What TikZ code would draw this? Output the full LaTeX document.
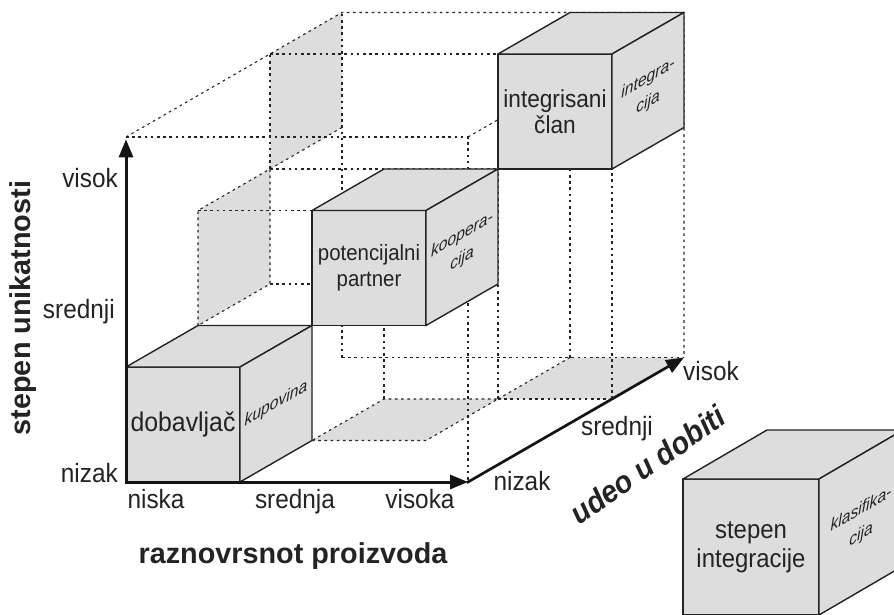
\documentclass[tikz,border=0pt]{standalone}
\usepackage{graphicx}
\usepackage{fontspec}
\setmainfont{Liberation Sans}
\newfontfamily\narrowsans{Liberation Sans}[FakeStretch=0.92]
\usetikzlibrary{arrows.meta}

\definecolor{facegray}{RGB}{221,221,221}
\definecolor{ink}{RGB}{35,35,35}

\tikzset{
  cubeface/.style={fill=facegray, draw=ink, line width=1.4pt, line join=round},
  guide/.style={draw=ink, line width=1.1pt, dash pattern=on 2.6pt off 3.6pt},
  wallshade/.style={fill=facegray},
  axisline/.style={draw=black!92, line width=3pt, line cap=rect,
    -{Triangle[length=18pt,width=14pt]}},
  ticklabel/.style={font=\narrowsans\fontsize{26.5}{30}\selectfont, text=ink, inner sep=0pt},
  axistitle/.style={font=\fontsize{28.8}{32}\selectfont\bfseries, text=ink, inner sep=0pt},
  frontlabel/.style={font=\narrowsans\fontsize{24.6}{26.5}\selectfont, text=ink, align=center, inner sep=0pt},
  sidelabel/.style={font=\narrowsans\fontsize{17}{24}\selectfont\itshape, text=ink, align=center,
    inner sep=0pt, yslant=0.576, transform shape},
}

% unit cube whose front-bottom-left corner is (#1,#2,#3): front, top and right faces
\newcommand{\drawcube}[3]{%
  \filldraw[cubeface] (#1,#2,#3) -- ++(1,0,0) -- ++(0,1,0) -- ++(-1,0,0) -- cycle;
  \filldraw[cubeface] (#1,{#2+1},#3) -- ++(1,0,0) -- ++(0,0,1) -- ++(-1,0,0) -- cycle;
  \filldraw[cubeface] ({#1+1},#2,#3) -- ++(0,0,1) -- ++(0,1,0) -- ++(0,0,-1) -- cycle;
}

\begin{document}
\begin{tikzpicture}[x=1pt,y=1pt]
\useasboundingbox (0,0) rectangle (894,614);

\begin{scope}[shift={(126pt,132pt)}, x={(114pt,0pt)}, y={(0pt,115pt)}, z={(72pt,41.5pt)}]
  % corners of the 3x3x3 frame
  \coordinate (O)   at (0,0,0);
  \coordinate (X3)  at (3,0,0);
  \coordinate (Y3)  at (0,2.98,0);
  \coordinate (Z3)  at (3,0,3);

  % projections of the cubes on the left wall and on the floor
  \fill[wallshade] (0,1,1) -- (0,2,1) -- (0,2,2) -- (0,1,2) -- cycle;
  \fill[wallshade] (0,2,2) -- (0,3,2) -- (0,3,3) -- (0,2,3) -- cycle;
  \fill[wallshade] (1,0,1) -- (2,0,1) -- (2,0,2) -- (1,0,2) -- cycle;
  \fill[wallshade] (2,0,2) -- (3,0,2) -- (3,0,3) -- (2,0,3) -- cycle;

  % frame edges
  \draw[guide] (0,3,0) -- (3,3,0) -- (3,0,0);
  \draw[guide] (0,3,0) -- (0,3,3) -- (3,3,3) -- (3,0,3);
  \draw[guide] (3,3,0) -- (3,3,3);
  \draw[guide] (0,0,3) -- (0,3,3);
  \draw[guide] (0,0,3) -- (3,0,3);

  % left-wall squares and their links to the cubes
  \draw[guide] (0,1,1) -- (0,2,1) -- (0,2,2) -- (0,1,2) -- cycle;
  \draw[guide] (0,2,2) -- (0,3,2);
  \draw[guide] (0,2,2) -- (0,2,3);
  \draw[guide] (0,3,2) -- (2,3,2);
  \draw[guide] (0,2,2) -- (2,2,2);
  \draw[guide] (0,2,1) -- (1,2,1);
  \draw[guide] (0,1,2) -- (1,1,2);

  % floor squares and their links to the cubes
  \draw[guide] (1,0,1) -- (2,0,1) -- (2,0,2) -- (1,0,2) -- cycle;
  \draw[guide] (2,0,2) -- (3,0,2);
  \draw[guide] (2,0,2) -- (2,0,3);
  \draw[guide] (1,0,2) -- (1,1,2);
  \draw[guide] (2,0,2) -- (2,2,2);
  \draw[guide] (3,0,2) -- (3,2,2);
  \draw[guide] (2,0,3) -- (2,2,3);

  % the three cubes, back to front
  \drawcube{2}{2}{2}
  \drawcube{1}{1}{1}
  \drawcube{0}{0}{0}

  \node[frontlabel] (clan)  at (2.5,2.5,2) {integrisani\\član};
  \node[sidelabel]  (integ) at (3,2.5,2.5) {integra-\\cija};
  \node[frontlabel, font=\narrowsans\fontsize{22.2}{26.5}\selectfont] (partn) at (1.5,1.5,1) {potencijalni\\partner};
  \node[sidelabel]  (koop)  at (2,1.5,1.5) {koopera-\\cija};
  \node[frontlabel, font=\narrowsans\fontsize{27}{30}\selectfont] (dob) at (0.5,0.5,0) {dobavljač};
  \node[sidelabel]  (kup)   at (1,0.5,0.5) {kupovina};

  % axes
  \draw[axisline] (O) -- (Y3);
  \draw[axisline] (O) -- (X3);
  \draw[axisline, line width=2.7pt] (X3) -- (Z3);
\end{scope}

% vertical axis
\node[ticklabel, anchor=base east] (yhi)  at (118,426) {visok};
\node[ticklabel, anchor=base east] (ymid) at (115,296) {srednji};
\node[ticklabel, anchor=base east] (ylo)  at (118,132) {nizak};
\node[axistitle, rotate=90] (ytitle) at (23,306) {stepen unikatnosti};

% horizontal axis
\node[ticklabel, anchor=base] (xlo)  at (156,106) {niska};
\node[ticklabel, anchor=base] (xmid) at (295,106) {srednja};
\node[ticklabel, anchor=base] (xhi)  at (420,106) {visoka};
\node[axistitle, anchor=base] (xtitle) at (293,51) {raznovrsnot proizvoda};

% depth axis
\node[ticklabel, anchor=base] (zlo)  at (522,124) {nizak};
\node[ticklabel, anchor=base] (zmid) at (617,179) {srednji};
\node[ticklabel, anchor=base] (zhi)  at (711,234) {visok};
\node[axistitle, font=\fontsize{31}{34}\selectfont\bfseries\itshape, rotate=35, anchor=base] (ztitle) at (654,140) {\scalebox{0.93}[1]{udeo u dobiti}};

% key cube
\begin{scope}[shift={(683pt,-1pt)}, x={(136pt,0pt)}, y={(0pt,136pt)}, z={(84pt,49pt)}]
  \drawcube{0}{0}{0}
  \node[frontlabel, font=\narrowsans\fontsize{26}{29}\selectfont] (keyfront) at (0.5,0.5,0) {stepen\\integracije};
  \node[sidelabel, font=\narrowsans\fontsize{17}{25}\selectfont\itshape] (keyside) at (1,0.5,0.5) {klasifika-\\cija};
\end{scope}
\end{tikzpicture}
\end{document}
